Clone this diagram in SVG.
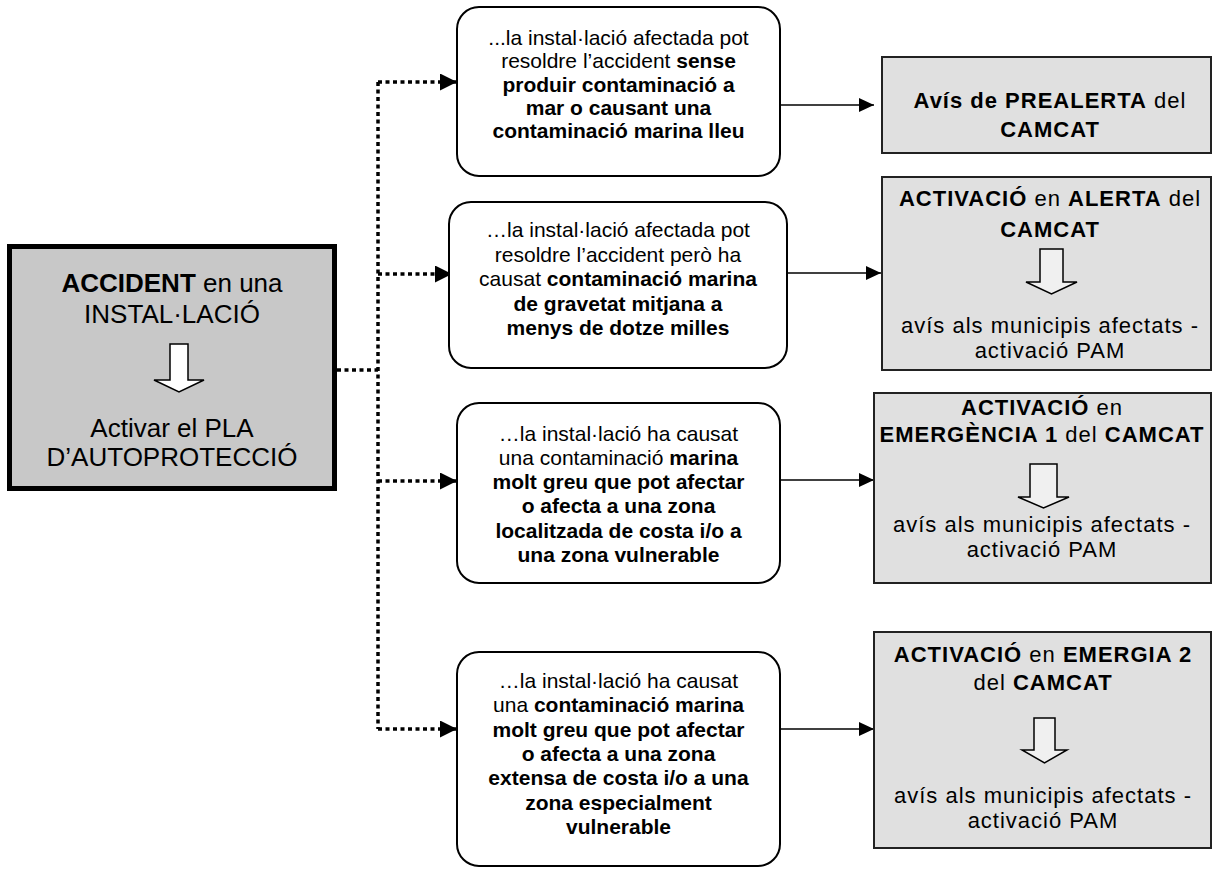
<svg xmlns="http://www.w3.org/2000/svg" width="1213" height="870" viewBox="0 0 1213 870">
<defs>
<style>
text{font-family:"Liberation Sans",Arial,sans-serif;fill:#000;text-anchor:middle}
.m{font-size:26px}
.l{font-size:21px}
.r{font-size:22px;letter-spacing:1px}
.b{font-weight:bold}
.rb{fill:#fff;stroke:#000;stroke-width:2}
.gb{fill:#e0e0e0;stroke:#222;stroke-width:2}
.blk{fill:#f0f0f0;stroke:#000;stroke-width:1.5;stroke-linejoin:miter}
.dot{fill:none;stroke:#000;stroke-width:3.5;stroke-dasharray:4 3.5}
.sol{fill:none;stroke:#000;stroke-width:1.5}
</style>
<marker id="ah" markerUnits="userSpaceOnUse" markerWidth="17" markerHeight="17" refX="17" refY="8.5" orient="auto">
<path d="M0,0 L17,8.5 L0,17 z" fill="#000"/>
</marker>
<marker id="as" markerUnits="userSpaceOnUse" markerWidth="15" markerHeight="14" refX="15" refY="7" orient="auto">
<path d="M0,0 L15,7 L0,14 z" fill="#000"/>
</marker>
</defs>

<g id="connectors">
<path class="dot" d="M337 370 H378"/>
<path class="dot" d="M378 82 V729"/>
<path class="dot" d="M378 82 H457" marker-end="url(#ah)"/>
<path class="dot" d="M378 274 H452" marker-end="url(#ah)"/>
<path class="dot" d="M378 481 H457" marker-end="url(#ah)"/>
<path class="dot" d="M378 729 H457" marker-end="url(#ah)"/>
<path class="sol" d="M780 105 H874" marker-end="url(#as)"/>
<path class="sol" d="M787 273 H881" marker-end="url(#as)"/>
<path class="sol" d="M780 480 H874" marker-end="url(#as)"/>
<path class="sol" d="M780 729 H874" marker-end="url(#as)"/>
</g>

<g id="main">
<rect x="9.5" y="246.5" width="325" height="242" fill="#c8c8c8" stroke="#000" stroke-width="5"/>
<text class="m" x="172" y="292"><tspan class="b">ACCIDENT</tspan> en una</text>
<text class="m" x="172" y="323">INSTAL·LACIÓ</text>
<polygon class="blk" style="fill:#fff" points="170,344 188,344 188,380 204,380 179,392 154,380 170,380"/>
<text class="m" x="172" y="437">Activar el PLA</text>
<text class="m" x="172" y="466">D’AUTOPROTECCIÓ</text>
</g>

<g id="case1">
<rect class="rb" x="457" y="7" width="323" height="169" rx="22"/>
<text class="l" x="618.5" y="44.5">...la instal·lació afectada pot</text>
<text class="l" x="618.5" y="68">resoldre l’accident <tspan class="b">sense</tspan></text>
<text class="l b" x="618.5" y="91.5">produir contaminació a</text>
<text class="l b" x="618.5" y="115">mar o causant una</text>
<text class="l b" x="618.5" y="138">contaminació marina lleu</text>
</g>

<g id="case2">
<rect class="rb" x="449" y="202" width="338" height="166" rx="22"/>
<text class="l" x="618" y="237">…la instal·lació afectada pot</text>
<text class="l" x="618" y="262">resoldre l’accident però ha</text>
<text class="l" x="618" y="286">causat <tspan class="b">contaminació marina</tspan></text>
<text class="l b" x="618" y="311">de gravetat mitjana a</text>
<text class="l b" x="618" y="335">menys de dotze milles</text>
</g>

<g id="case3">
<rect class="rb" x="457" y="403" width="323" height="180" rx="22"/>
<text class="l" x="618.5" y="441">…la instal·lació ha causat</text>
<text class="l" x="618.5" y="465">una contaminació <tspan class="b">marina</tspan></text>
<text class="l b" x="618.5" y="489">molt greu que pot afectar</text>
<text class="l b" x="618.5" y="513">o afecta a una zona</text>
<text class="l b" x="618.5" y="538">localitzada de costa i/o a</text>
<text class="l b" x="618.5" y="562">una zona vulnerable</text>
</g>

<g id="case4">
<rect class="rb" x="457" y="652" width="323" height="214" rx="22"/>
<text class="l" x="618.5" y="688">…la instal·lació ha causat</text>
<text class="l" x="618.5" y="712">una <tspan class="b">contaminació marina</tspan></text>
<text class="l b" x="618.5" y="737">molt greu que pot afectar</text>
<text class="l b" x="618.5" y="761">o afecta a una zona</text>
<text class="l b" x="618.5" y="785">extensa de costa i/o a una</text>
<text class="l b" x="618.5" y="810">zona especialment</text>
<text class="l b" x="618.5" y="834">vulnerable</text>
</g>

<g id="prealerta">
<rect class="gb" x="882" y="57" width="329" height="96"/>
<text class="r" x="1050" y="108"><tspan class="b">Avís de PREALERTA</tspan> del</text>
<text class="r b" x="1050" y="137">CAMCAT</text>
</g>

<g id="alerta">
<rect class="gb" x="882" y="177" width="329" height="193"/>
<text class="r" x="1050" y="206"><tspan class="b">ACTIVACIÓ</tspan> en <tspan class="b">ALERTA</tspan> del</text>
<text class="r b" x="1050" y="237">CAMCAT</text>
<polygon class="blk" points="1040,249 1063,249 1063,282 1077,282 1051.5,294 1026,282 1040,282"/>
<text class="r" x="1050" y="333">avís als municipis afectats -</text>
<text class="r" x="1050" y="358">activació PAM</text>
</g>

<g id="emergencia1">
<rect class="gb" x="874" y="393" width="337" height="190"/>
<text class="r" x="1042" y="415"><tspan class="b">ACTIVACIÓ</tspan> en</text>
<text class="r" x="1042" y="442"><tspan class="b">EMERGÈNCIA 1</tspan> del <tspan class="b">CAMCAT</tspan></text>
<polygon class="blk" points="1030,464 1057,464 1057,497 1069,497 1043.5,508 1018,497 1030,497"/>
<text class="r" x="1042" y="532">avís als municipis afectats -</text>
<text class="r" x="1042" y="557">activació PAM</text>
</g>

<g id="emergencia2">
<rect class="gb" x="874" y="632" width="337" height="216"/>
<text class="r" x="1043" y="662"><tspan class="b">ACTIVACIÓ</tspan> en <tspan class="b">EMERGIA 2</tspan></text>
<text class="r" x="1043" y="690">del <tspan class="b">CAMCAT</tspan></text>
<polygon class="blk" points="1034,718 1055,718 1055,750 1067,750 1044.5,763 1022,750 1034,750"/>
<text class="r" x="1043" y="803">avís als municipis afectats -</text>
<text class="r" x="1043" y="828">activació PAM</text>
</g>
</svg>
